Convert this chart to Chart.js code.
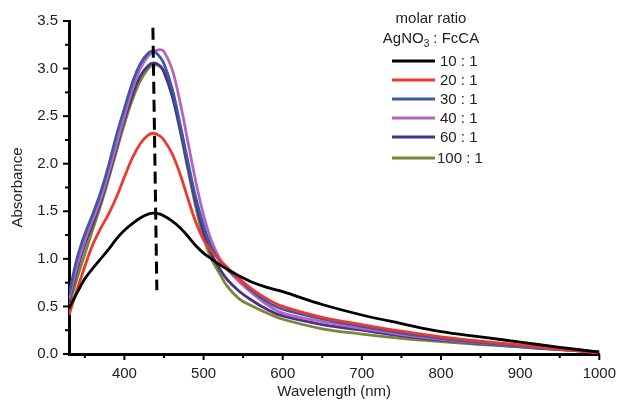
<!DOCTYPE html>
<html>
<head>
<meta charset="utf-8">
<script src="https://cdn.jsdelivr.net/npm/chart.js@4.4.1/dist/chart.umd.min.js"></script>
<style>
  body { margin: 0; background: #fff; }
</style>
</head>
<body>
<canvas id="uvvis" width="627" height="401"></canvas>
<script>
// wavelength (nm)
var wavelengths = [330, 340, 350, 360, 370, 380, 390, 400, 410, 420, 430, 437, 445, 450, 460, 470, 480, 490, 500, 510, 520, 530, 545, 560, 580, 600, 650, 700, 750, 800, 850, 900, 950, 1000];

// absorbance for each AgNO3 : FcCA ratio
var ratio10  = [0.48, 0.64, 0.79, 0.90, 1.00, 1.10, 1.21, 1.30, 1.37, 1.43, 1.47, 1.48, 1.47, 1.45, 1.40, 1.33, 1.24, 1.14, 1.06, 1.00, 0.94, 0.89, 0.82, 0.76, 0.70, 0.655, 0.52, 0.41, 0.32, 0.235, 0.18, 0.125, 0.07, 0.02];
var ratio20  = [0.41, 0.67, 0.92, 1.15, 1.32, 1.47, 1.65, 1.86, 2.06, 2.21, 2.30, 2.32, 2.29, 2.25, 2.11, 1.90, 1.64, 1.39, 1.20, 1.08, 0.99, 0.91, 0.79, 0.69, 0.58, 0.50, 0.385, 0.31, 0.24, 0.18, 0.135, 0.095, 0.05, 0.01];
var ratio30  = [0.62, 1.00, 1.26, 1.47, 1.70, 1.98, 2.30, 2.58, 2.85, 3.05, 3.16, 3.18, 3.12, 3.05, 2.80, 2.43, 2.03, 1.65, 1.35, 1.12, 0.98, 0.89, 0.79, 0.67, 0.55, 0.47, 0.37, 0.29, 0.22, 0.165, 0.12, 0.085, 0.05, 0.025];
var ratio40  = [0.58, 0.92, 1.19, 1.41, 1.63, 1.90, 2.20, 2.50, 2.78, 3.00, 3.13, 3.18, 3.20, 3.18, 3.00, 2.66, 2.24, 1.82, 1.46, 1.19, 1.01, 0.89, 0.76, 0.65, 0.52, 0.43, 0.34, 0.27, 0.205, 0.155, 0.115, 0.08, 0.05, 0.02];
var ratio60  = [0.55, 0.88, 1.15, 1.37, 1.60, 1.87, 2.17, 2.46, 2.72, 2.92, 3.03, 3.06, 3.03, 2.97, 2.73, 2.38, 1.98, 1.60, 1.28, 1.05, 0.90, 0.78, 0.66, 0.57, 0.47, 0.40, 0.31, 0.25, 0.19, 0.145, 0.11, 0.075, 0.045, 0.02];
var ratio100 = [0.50, 0.79, 1.05, 1.31, 1.56, 1.84, 2.13, 2.42, 2.67, 2.87, 3.00, 3.04, 3.02, 2.96, 2.72, 2.36, 1.95, 1.55, 1.22, 1.00, 0.85, 0.71, 0.58, 0.51, 0.43, 0.365, 0.265, 0.21, 0.165, 0.13, 0.10, 0.075, 0.045, 0.02];

var ratioLabels = ['10 : 1', '20 : 1', '30 : 1', '40 : 1', '60 : 1', '100 : 1'];
var lineColors = ['#000000', '#f0372d', '#3c58a9', '#b466bd', '#4a2f8c', '#7b8634'];
var xTickValues = [400, 500, 600, 700, 800, 900, 1000];

// dashed marker at the plasmon peak
var peakLine = [{x: 436, y: 3.43}, {x: 441, y: 0.67}];

var fontFamily = '"Liberation Sans", Arial, sans-serif';

function toPoints(values) {
  return values.map(function(v, i) { return {x: wavelengths[i], y: v}; });
}

var seriesValues = [ratio10, ratio20, ratio30, ratio40, ratio60, ratio100];
var datasets = seriesValues.map(function(vals, i) {
  return {
    label: ratioLabels[i],
    data: toPoints(vals),
    borderColor: lineColors[i],
    borderWidth: 2.8,
    pointRadius: 0,
    tension: 0.4,
    fill: false,
    order: i + 1
  };
});
datasets.push({
  label: 'peak',
  data: peakLine,
  borderColor: '#000',
  borderWidth: 3,
  borderDash: [12, 6],
  pointRadius: 0,
  fill: false,
  order: 0
});

// little outward ticks, major and minor
var axisTicks = {
  id: 'axisTicks',
  afterDraw: function(chart) {
    var ctx = chart.ctx;
    var xs = chart.scales.x, ys = chart.scales.y;
    var area = chart.chartArea;
    ctx.save();
    ctx.strokeStyle = '#000';
    ctx.lineWidth = 2;
    for (var w = 350; w <= 1000; w += 50) {
      var px = xs.getPixelForValue(w);
      var len = (w % 100 === 0) ? 6 : 4;
      ctx.beginPath();
      ctx.moveTo(px, area.bottom);
      ctx.lineTo(px, area.bottom + len);
      ctx.stroke();
    }
    for (var k = 0; k <= 14; k++) {
      var py = ys.getPixelForValue(k * 0.25);
      var l = (k % 2 === 0) ? 6 : 4;
      ctx.beginPath();
      ctx.moveTo(area.left, py);
      ctx.lineTo(area.left - l, py);
      ctx.stroke();
    }
    ctx.restore();
  }
};

// legend with its two-line title
var ratioLegend = {
  id: 'ratioLegend',
  afterDraw: function(chart) {
    var ctx = chart.ctx;
    ctx.save();
    ctx.fillStyle = '#222';
    ctx.font = '15px ' + fontFamily;
    ctx.textBaseline = 'middle';
    ctx.textAlign = 'center';
    ctx.fillText('molar ratio', 431, 19);

    // AgNO3 : FcCA with a lowered 3
    var a = 'AgNO', b = '3', c = ' : FcCA';
    ctx.textAlign = 'left';
    var wa = ctx.measureText(a).width;
    var wc = ctx.measureText(c).width;
    ctx.font = '10px ' + fontFamily;
    var wb = ctx.measureText(b).width;
    var x0 = 431 - (wa + wb + wc) / 2;
    ctx.font = '15px ' + fontFamily;
    ctx.fillText(a, x0, 39);
    ctx.font = '10px ' + fontFamily;
    ctx.fillText(b, x0 + wa, 44);
    ctx.font = '15px ' + fontFamily;
    ctx.fillText(c, x0 + wa + wb, 39);

    var rowY = [61, 80, 99, 118, 137, 158];
    for (var i = 0; i < ratioLabels.length; i++) {
      ctx.strokeStyle = lineColors[i];
      ctx.lineWidth = 3;
      ctx.beginPath();
      ctx.moveTo(392, rowY[i]);
      ctx.lineTo(435, rowY[i]);
      ctx.stroke();
      ctx.fillStyle = '#222';
      ctx.fillText(ratioLabels[i], i === 5 ? 437 : 440, rowY[i] + 1);
    }
    ctx.restore();
  }
};

var ctx = document.getElementById('uvvis').getContext('2d');
new Chart(ctx, {
  type: 'line',
  data: { datasets: datasets },
  options: {
    responsive: false,
    animation: false,
    devicePixelRatio: 1,
    layout: { padding: { top: 21, right: 20, left: 0, bottom: 0 } },
    plugins: {
      legend: { display: false },
      tooltip: { enabled: false }
    },
    scales: {
      x: {
        type: 'linear',
        min: 330,
        max: 1000,
        afterBuildTicks: function(scale) {
          scale.ticks = xTickValues.map(function(v) { return {value: v}; });
        },
        afterFit: function(scale) { scale.height = 47; },
        grid: { display: false, drawTicks: false },
        border: { display: true, color: '#000', width: 3 },
        ticks: {
          padding: 11,
          color: '#222',
          font: { size: 15, family: fontFamily },
          maxRotation: 0,
          callback: function(v) { return String(v); }
        },
        title: {
          display: true,
          text: 'Wavelength (nm)',
          color: '#222',
          font: { size: 15, family: fontFamily },
          padding: 0
        }
      },
      y: {
        min: 0,
        max: 3.5,
        afterFit: function(scale) { scale.width = 69; },
        grid: { display: false, drawTicks: false },
        border: { display: true, color: '#000', width: 3 },
        ticks: {
          stepSize: 0.5,
          padding: 11,
          color: '#222',
          font: { size: 15, family: fontFamily },
          callback: function(v) { return v.toFixed(1); }
        },
        title: {
          display: true,
          text: 'Absorbance',
          color: '#222',
          font: { size: 15, family: fontFamily },
          padding: { top: 9, bottom: 0 }
        }
      }
    }
  },
  plugins: [axisTicks, ratioLegend]
});
</script>
</body>
</html>
